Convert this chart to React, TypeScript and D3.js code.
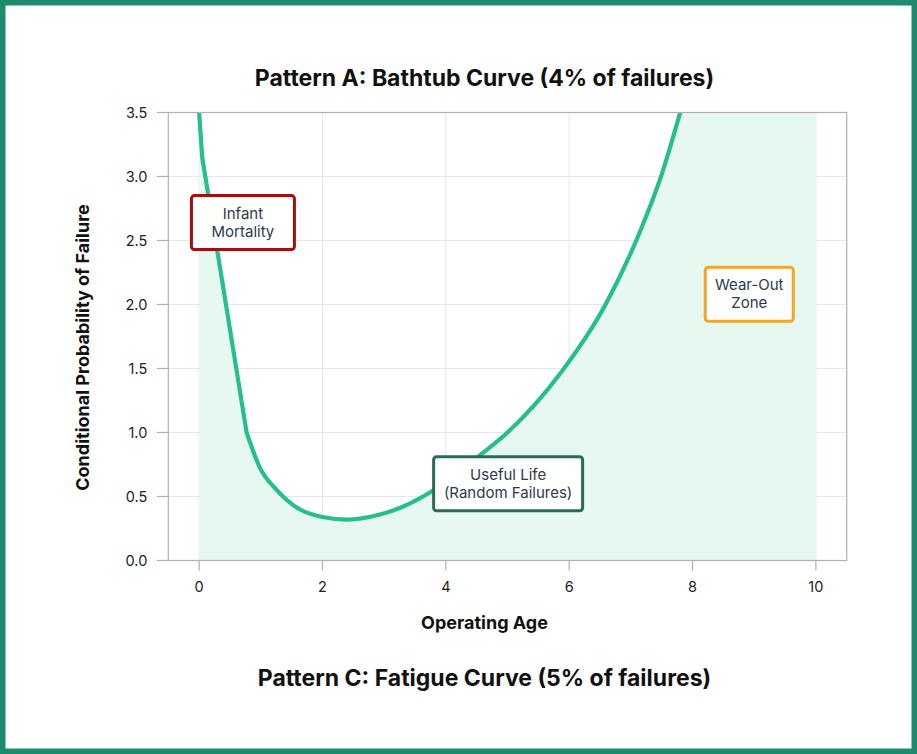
import * as d3 from 'd3';

// Steep early-life drop (straight segments in the reference)
const ageSteep = [0, 0.05, 0.77];
const probSteep = [3.5, 3.15, 1.0];

// Smooth trough and wear-out rise
const ageSmooth = [0.77, 0.98, 1.26, 1.63, 2.0, 2.4, 2.9, 3.3, 3.7, 4.6, 5.0, 5.87, 6.59, 7.14, 7.51, 7.8, 8.2, 9.0, 10.0];
const probSmooth = [1.0, 0.73, 0.55, 0.4, 0.34, 0.32, 0.355, 0.42, 0.52, 0.84, 1.0, 1.47, 2.0, 2.56, 3.03, 3.5, 4.2, 6.2, 10.0];

const xTicks = [0, 2, 4, 6, 8, 10];
const yTicks = [0, 0.5, 1, 1.5, 2, 2.5, 3, 3.5];

const noteLines = [['Infant', 'Mortality'], ['Useful Life', '(Random Failures)'], ['Wear-Out', 'Zone']];
const noteAge = [0.71, 5.01, 8.92];
const noteProb = [2.64, 0.6, 2.08];

const titleTop = 'Pattern A: Bathtub Curve (4% of failures)';
const titleBottom = 'Pattern C: Fatigue Curve (5% of failures)';
const xLabel = 'Operating Age';
const yLabel = 'Conditional Probability of Failure';

const noteStyles = [
  { stroke: '#a30f0f', w: 103 },
  { stroke: '#2a6b57', w: 149 },
  { stroke: '#f0a72c', w: 88 },
];

const W = 917;
const H = 754;
const plot = { left: 168.3, right: 846.7, top: 112.5, bottom: 560.5 };
const FONT = 'Inter, "Noto Sans", sans-serif';

type Pt = { x: number; y: number };

export default function App() {
  const x = d3.scaleLinear().domain([-0.5, 10.5]).range([plot.left, plot.right]);
  const y = d3.scaleLinear().domain([0, 3.5]).range([plot.bottom, plot.top]);

  const steep: Pt[] = ageSteep.map((a, i) => ({ x: a, y: probSteep[i] }));
  const smooth: Pt[] = ageSmooth.map((a, i) => ({ x: a, y: probSmooth[i] }));

  // straight part then monotone part, joined into one path
  const steepPath = d3.line<Pt>().x(d => x(d.x)).y(d => y(d.y))(steep) || '';
  const smoothPath = (d3.line<Pt>().x(d => x(d.x)).y(d => y(d.y)).curve(d3.curveMonotoneX)(smooth) || '').replace(/^M/, 'L');
  const curvePath = steepPath + smoothPath;
  const first = steep[0];
  const last = smooth[smooth.length - 1];
  const areaPath = `M${x(first.x)},${y(0)}L${x(first.x)},${y(first.y)}` + curvePath.replace(/^M[^L]*/, '') +
    `L${x(last.x)},${y(0)}Z`;

  const fmt = d3.format('.1f');
  const lineColor = '#26be8c';
  const fillColor = '#e7f8f1';

  return (
    <svg width={W} height={H} style={{ position: 'absolute', left: 0, top: 0 }} fontFamily={FONT}>
      <defs>
        <clipPath id="plotClip">
          <rect x={plot.left} y={plot.top} width={plot.right - plot.left} height={plot.bottom - plot.top} />
        </clipPath>
      </defs>
      <rect x={0} y={0} width={W} height={H} fill="#fff" />

      {/* grid */}
      {xTicks.map(t => (
        <line key={'gx' + t} x1={x(t)} x2={x(t)} y1={plot.top} y2={plot.bottom} stroke="#e6e7ea" strokeWidth={1} />
      ))}
      {yTicks.map(t => (
        <line key={'gy' + t} x1={plot.left} x2={plot.right} y1={y(t)} y2={y(t)} stroke="#e6e7ea" strokeWidth={1} />
      ))}

      {/* area + curve */}
      <g clipPath="url(#plotClip)">
        <path d={areaPath} fill={fillColor} />
        <path d={curvePath} fill="none" stroke={lineColor} strokeWidth={4.2} strokeLinejoin="round" />
      </g>

      {/* frame */}
      <rect x={plot.left} y={plot.top} width={plot.right - plot.left} height={plot.bottom - plot.top} fill="none" stroke="#b0b0b0" strokeWidth={1.2} />

      {/* y axis */}
      {yTicks.map(t => (
        <g key={'ty' + t}>
          <line x1={plot.left - 11.5} x2={plot.left} y1={y(t)} y2={y(t)} stroke="#b0b0b0" strokeWidth={1.2} />
          <text x={plot.left - 21} y={y(t)} dy="0.36em" textAnchor="end" fontSize={14.5} fill="#222">{fmt(t)}</text>
        </g>
      ))}
      {/* x axis */}
      {xTicks.map(t => (
        <g key={'tx' + t}>
          <line x1={x(t)} x2={x(t)} y1={plot.bottom} y2={plot.bottom + 10} stroke="#b0b0b0" strokeWidth={1.2} />
          <text x={x(t)} y={592} textAnchor="middle" fontSize={14.5} fill="#222">{t}</text>
        </g>
      ))}

      {/* annotations */}
      {noteLines.map((lines, i) => {
        const cx = x(noteAge[i]);
        const cy = y(noteProb[i]);
        const st = noteStyles[i];
        return (
          <g key={'n' + i}>
            <rect x={cx - st.w / 2} y={cy - 27} width={st.w} height={54} rx={3} fill="#fff" stroke={st.stroke} strokeWidth={3} />
            {lines.map((s, j) => (
              <text key={j} x={cx} y={cy - 4 + j * 18} textAnchor="middle" fontSize={15} fill="#2f3a4b">{s}</text>
            ))}
          </g>
        );
      })}

      {/* titles */}
      <text x={484.5} y={86} textAnchor="middle" fontSize={23} fontWeight="bold" fill="#111">{titleTop}</text>
      <text x={484.5} y={629} textAnchor="middle" fontSize={18} fontWeight="bold" fill="#111">{xLabel}</text>
      <text transform={`translate(89, 347.5) rotate(-90)`} textAnchor="middle" fontSize={18} fontWeight="bold" fill="#111">{yLabel}</text>
      <text x={484.5} y={686} textAnchor="middle" fontSize={23} fontWeight="bold" fill="#111">{titleBottom}</text>

      {/* outer border */}
      <rect x={2.75} y={2.75} width={W - 5.5} height={H - 5.5} fill="none" stroke="#1e8a6e" strokeWidth={5.5} />
    </svg>
  );
}
